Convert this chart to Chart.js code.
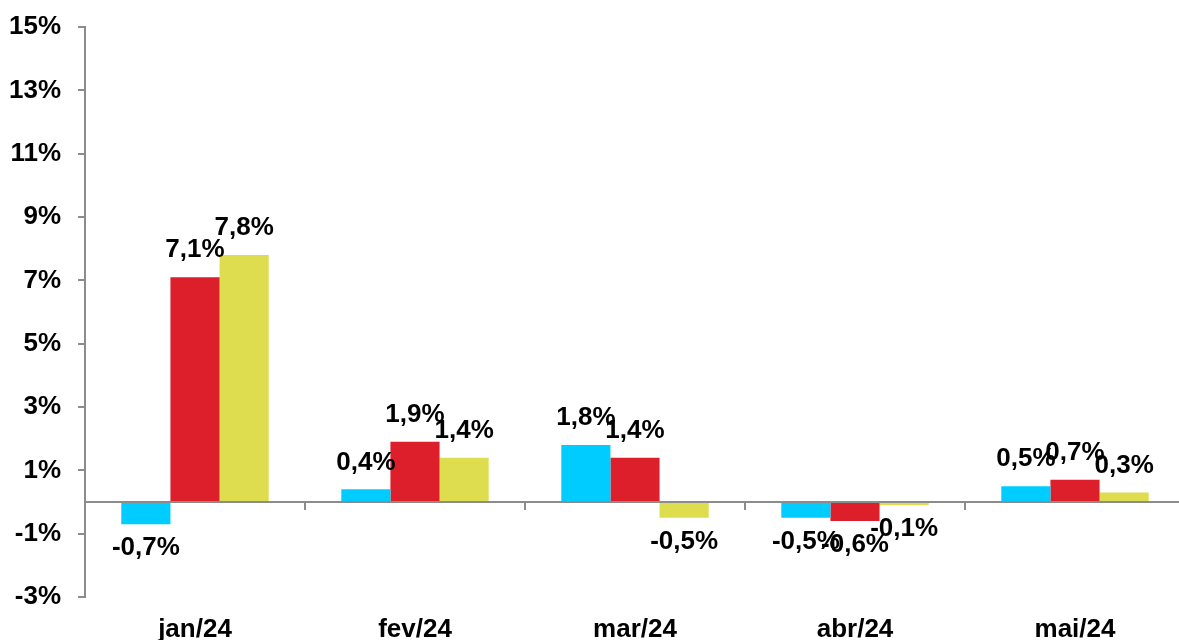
<!DOCTYPE html>
<html>
<head>
<meta charset="utf-8">
<script src="https://cdn.jsdelivr.net/npm/chart.js@4/dist/chart.umd.min.js"></script>
<style>
  html, body { margin: 0; padding: 0; background: #fff; overflow: hidden; }
  #wrap { width: 1186px; height: 640px; }
</style>
</head>
<body>
<div id="wrap"><canvas id="chart"></canvas></div>
<script>
const months = ['jan/24', 'fev/24', 'mar/24', 'abr/24', 'mai/24'];
const seriesCyan = [-0.7, 0.4, 1.8, -0.5, 0.5];
const seriesRed = [7.1, 1.9, 1.4, -0.6, 0.7];
const seriesYellow = [7.8, 1.4, -0.5, -0.1, 0.3];
const yTicks = [-3, -1, 1, 3, 5, 7, 9, 11, 13, 15];

const axisGrey = '#8c8c8c';
const fontFamily = "'Liberation Sans', Arial, sans-serif";

function formatValue(v) {
  return `${v.toFixed(1).replace('.', ',')}%`;
}

// zero line + tick marks between categories
const zeroLinePlugin = {
  id: 'zeroLine',
  afterDatasetsDraw(chart) {
    const { ctx, chartArea, scales } = chart;
    const y0 = scales.y.getPixelForValue(0);
    ctx.save();
    ctx.strokeStyle = axisGrey;
    ctx.lineWidth = 2;
    ctx.beginPath();
    ctx.moveTo(chartArea.left, y0);
    ctx.lineTo(chartArea.right, y0);
    for (let i = 0; i < months.length - 1; i++) {
      const x = Math.round((scales.x.getPixelForValue(i) + scales.x.getPixelForValue(i + 1)) / 2);
      ctx.moveTo(x, y0);
      ctx.lineTo(x, y0 + 8);
    }
    ctx.stroke();
    ctx.restore();
  },
};

const valueLabelPlugin = {
  id: 'valueLabel',
  afterDatasetsDraw(chart) {
    const { ctx } = chart;
    ctx.save();
    ctx.fillStyle = '#000';
    ctx.font = `bold 26px ${fontFamily}`;
    ctx.textAlign = 'center';
    ctx.textBaseline = 'middle';
    chart.data.datasets.forEach((dataset, di) => {
      const meta = chart.getDatasetMeta(di);
      meta.data.forEach((bar, i) => {
        const v = dataset.data[i];
        const y = v >= 0 ? bar.y - 27 : bar.y + 24;
        ctx.fillText(formatValue(v), bar.x, y);
      });
    });
    ctx.restore();
  },
};

new Chart(document.getElementById('chart'), {
  type: 'bar',
  data: {
    labels: months,
    datasets: [
      { label: 'A', data: seriesCyan, backgroundColor: '#00ccff' },
      { label: 'B', data: seriesRed, backgroundColor: '#dc1f2b' },
      { label: 'C', data: seriesYellow, backgroundColor: '#dddd4f' },
    ],
  },
  plugins: [zeroLinePlugin, valueLabelPlugin],
  options: {
    responsive: true,
    maintainAspectRatio: false,
    animation: false,
    layout: { padding: { top: 27, right: 1, left: 0, bottom: 0 } },
    datasets: {
      bar: { categoryPercentage: 0.67, barPercentage: 1, borderWidth: 0 },
    },
    plugins: {
      legend: { display: false },
      tooltip: { enabled: false },
    },
    scales: {
      x: {
        grid: { display: false, drawTicks: false },
        border: { display: false },
        ticks: {
          color: '#000',
          padding: 17,
          font: { family: fontFamily, size: 26, weight: 'bold' },
        },
        afterFit(scale) {
          scale.height = 43;
          scale.paddingLeft = 0;
          scale.paddingRight = 0;
        },
      },
      y: {
        min: -3,
        max: 15,
        afterBuildTicks(scale) {
          scale.ticks = yTicks.map((value) => ({ value }));
        },
        grid: {
          drawOnChartArea: false,
          color: axisGrey,
          lineWidth: 2,
          tickLength: 7,
        },
        border: { color: axisGrey, width: 2 },
        ticks: {
          color: '#000',
          padding: 17,
          font: { family: fontFamily, size: 26, weight: 'bold' },
          callback: (value) => `${value}%`,
        },
        afterFit(scale) {
          scale.width = 85;
          scale.paddingTop = 0;
          scale.paddingBottom = 0;
        },
      },
    },
  },
});
</script>
</body>
</html>
